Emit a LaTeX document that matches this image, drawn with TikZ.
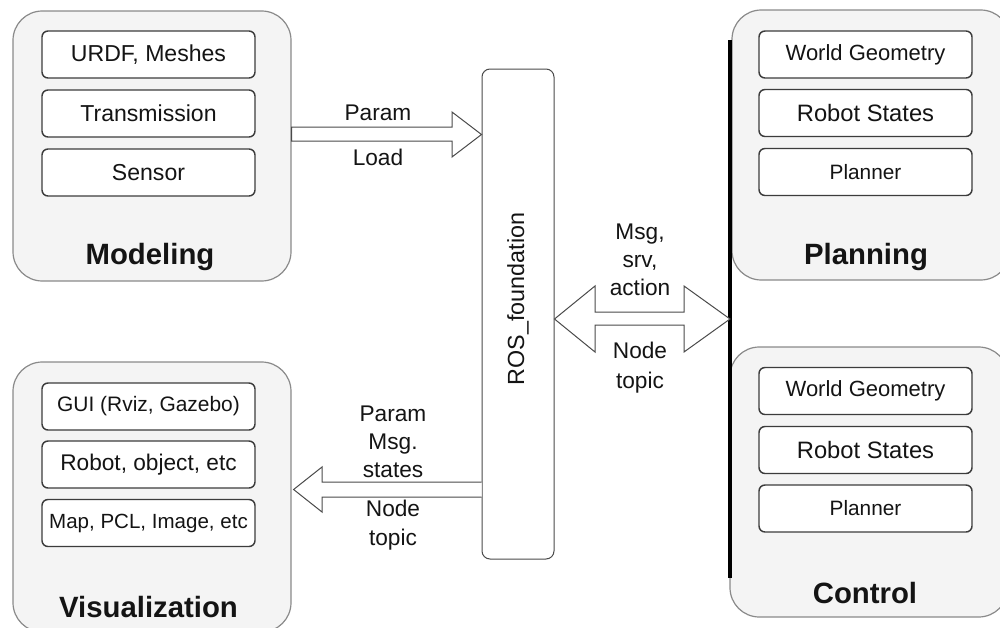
\documentclass[tikz,border=0pt]{standalone}
\usepackage{fontspec}
\setmainfont{Liberation Sans}
\usetikzlibrary{calc}
\definecolor{panelfill}{HTML}{F4F4F4}
\definecolor{panelline}{HTML}{8A8A8A}
\definecolor{boxline}{HTML}{3C3C3C}
\definecolor{arrowline}{HTML}{4A4A4A}
\definecolor{ink}{HTML}{141414}
\tikzset{
  panel/.style={draw=panelline, fill=panelfill, line width=0.9pt, rounded corners=22pt,
    minimum width=208.5pt, minimum height=202.5pt, inner sep=0pt},
  item/.style={draw=boxline, fill=white, line width=1.1pt, rounded corners=4.5pt,
    minimum width=159.75pt, minimum height=35.25pt, inner sep=0pt, text=ink,
    font=\fontsize{17.3}{20}\selectfont},
  paneltitle/.style={text=ink, font=\fontsize{22}{25}\selectfont\bfseries, inner sep=0pt},
  edgelabel/.style={text=ink, align=center, inner sep=0pt, font=\fontsize{17}{21}\selectfont},
  fatarrow/.style={draw=arrowline, fill=white, line width=0.75pt, line join=miter},
}
\newcommand{\fsz}[1]{\fontsize{#1}{20}\selectfont}
\begin{document}
\begin{tikzpicture}[x=0.75pt, y=-0.75pt]
  \useasboundingbox (0,0) rectangle (1000,628);
  \clip (0,0) rectangle (1000,628);

  % group panels
  \node[panel] (model) at (152,146) {};
  \node[panel] (vis)   at (152,497) {};
  \node[panel] (plan)  at (871,145) {};
  \node[panel] (ctrl)  at (869,482) {};

  % Modeling
  \node[item] (urdf)  at (148.5,54.5)  {URDF, Meshes};
  \node[item] (trans) at (148.5,113.5) {Transmission};
  \node[item] (sens)  at (148.5,172.5) {Sensor};
  \node[paneltitle] (modt) at (150,257) {Modeling};

  % Visualization
  \node[item, font=\fsz{15.7}] (gui) at (148.5,406.5) {GUI (Rviz, Gazebo)};
  \node[item, font=\fsz{17}] (robj) at (148.5,464.5) {Robot, object, etc};
  \node[item, font=\fsz{15.4}] (map) at (148.5,523) {Map, PCL, Image, etc};
  \node[paneltitle] (vist) at (148.5,607) {Visualization};

  % Planning
  \node[item, font=\fsz{16.5}] (pwg) at (865.5,54.5) {World Geometry};
  \node[item, font=\fsz{17.8}] (prs) at (865.5,113) {Robot States};
  \node[item, font=\fsz{15.6}] (ppl) at (865.5,172) {Planner};
  \node[paneltitle] (plant) at (866,257) {Planning};

  % Control
  \node[item, font=\fsz{16.5}] (cwg) at (865.5,391) {World Geometry};
  \node[item, font=\fsz{17.8}] (crs) at (865.5,450) {Robot States};
  \node[item, font=\fsz{15.6}] (cpl) at (865.5,508.5) {Planner};
  \node[paneltitle] (ctrlt) at (865,593) {Control};

  % ROS foundation
  \node[draw=arrowline, fill=white, line width=0.75pt, rounded corners=6pt,
        minimum width=54pt, minimum height=367.5pt, inner sep=0pt] (ros) at (518,314) {};
  \node[rotate=90, text=ink, inner sep=0pt, font=\fontsize{17.5}{20}\selectfont]
        (rost) at (518,299) {ROS\_foundation};

  % bus bar in front of the right panels
  \coordinate (bustop) at (730,40);
  \coordinate (busbot) at (730,578);
  \draw[line width=3pt, black] (bustop) -- (busbot);

  % Modeling -> ROS
  \draw[fatarrow]
    ($(model.east |- 0,127)$) -- (452,127) -- (452,112) -- ($(ros.west |- 0,134.5)$)
    -- (452,157) -- (452,141) -- ($(model.east |- 0,141)$) -- cycle;

  % ROS <-> bus (double arrow)
  \draw[fatarrow]
    ($(ros.east |- 0,319)$) -- (595,286) -- (595,312) -- (684,312) -- (684,286)
    -- ($(bustop |- 0,319)$) -- (684,352) -- (684,325) -- (595,325) -- (595,352) -- cycle;

  % ROS -> Visualization
  \draw[fatarrow]
    ($(ros.west |- 0,482)$) -- (322,482) -- (322,467) -- ($(vis.east |- 0,489.5)+(2,0)$)
    -- (322,512) -- (322,497) -- ($(ros.west |- 0,497)$);

  % connector labels
  \node[edgelabel] (lparam) at (378,113) {Param};
  \node[edgelabel] (lload)  at (378,157) {Load};
  \node[edgelabel] (lmsg)   at (640,260) {Msg,\\srv,\\action};
  \node[edgelabel, font=\fontsize{17}{22.5}\selectfont] (lnode1) at (640,368) {Node\\topic};
  \node[edgelabel] (lstate) at (393,441.5) {Param\\Msg.\\states};
  \node[edgelabel, font=\fontsize{17}{22}\selectfont] (lnode2) at (393,525) {Node\\topic};
\end{tikzpicture}
\end{document}
